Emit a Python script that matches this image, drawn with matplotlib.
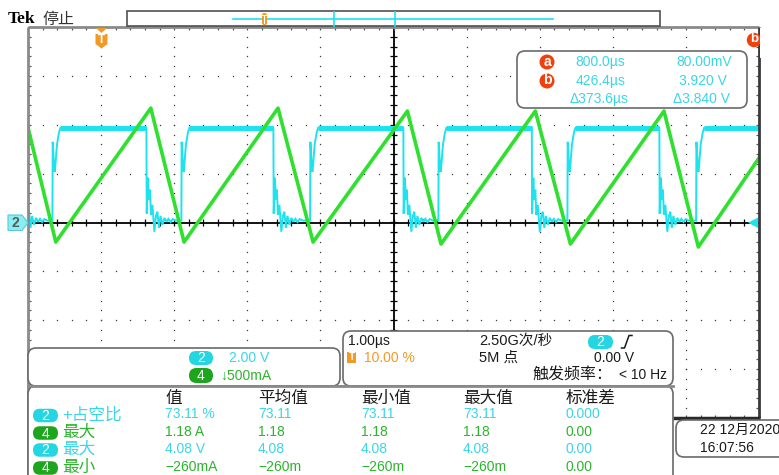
import matplotlib
matplotlib.use('Agg')
import matplotlib.pyplot as plt
from matplotlib.patches import FancyBboxPatch, Polygon, Circle, Rectangle
import numpy as np

W, H = 779, 475

# ---------------- data ----------------
ch2_scale = 2.0          # V/div
ch4_scale = 0.5          # A/div
t_left, t_right = -1.0, 9.0   # µs, 1.00 µs/div, trigger at 10 %

# channel 4 (current, green) triangle vertices
ch4_t = [-1.00, -0.62, 0.68, 1.135, 2.42, 2.90, 4.19, 4.65, 5.94, 6.42, 7.70, 8.17, 9.00]
ch4_i = [0.97, -0.20, 1.17, -0.20, 1.17, -0.20, 1.14, -0.22, 1.14, -0.22, 1.14, -0.25, 0.66]

# channel 2 (voltage, cyan) edges
ch2_fall_t = [-1.137, 0.620, 2.357, 4.135, 5.892, 7.637]
ch2_rise_t = [-0.666, 1.098, 2.859, 4.614, 6.379, 8.140]
ch2_low = 0.08
ch2_high = 3.88
# ringing after a falling edge (µs after edge, V)
ring_dt = [0.0, 0.004, 0.021, 0.034, 0.048, 0.062, 0.082, 0.109, 0.130, 0.150,
           0.171, 0.192, 0.219, 0.246, 0.274, 0.301, 0.33, 0.36, 0.40]
ring_v = [3.87, 0.36, 1.83, 0.93, 1.34, 0.31, 0.72, -0.38, 0.27, 0.44,
          -0.22, 0.27, -0.09, 0.19, 0.03, 0.15, 0.02, 0.14, 0.08]
# overshoot shape of a rising edge (µs after edge, V)
rise_dt = [0.0, 0.004, 0.018, 0.031, 0.041, 0.062, 0.089, 0.109]
rise_v = [0.08, 3.30, 2.56, 2.07, 2.36, 3.18, 3.67, 3.87]

# cursor readouts
cur_time = ['800.0µs', '426.4µs', 'Δ373.6µs']
cur_volt = ['80.00mV', '3.920 V', 'Δ3.840 V']

# measurement table
meas_headers = ['值', '平均值', '最小值', '最大值', '标准差']
meas_src = ['2', '4', '2', '4']
meas_name = ['+占空比', '最大', '最大', '最小']
meas_value = ['73.11 %', '1.18 A', '4.08 V', '−260mA']
meas_mean = ['73.11', '1.18', '4.08', '−260m']
meas_min = ['73.11', '1.18', '4.08', '−260m']
meas_max = ['73.11', '1.18', '4.08', '−260m']
meas_std = ['0.000', '0.00', '0.00', '0.00']

# ---------------- style ----------------
FONT = ['Liberation Sans', 'Noto Sans CJK SC', 'DejaVu Sans']
plt.rcParams['font.family'] = FONT
CYAN = '#1ee3ef'
CYAN_TXT = '#3ad6e6'
GREEN = '#2fe02f'
GREEN_TXT = '#2db42d'
GREEN_PILL = '#1ea51e'
CYAN_PILL = '#24d6e2'
ORANGE = '#f39a24'
RED = '#f0400c'
BLACK = '#1a1a1a'

fig = plt.figure(figsize=(W / 100, H / 100), dpi=100)
fig.patch.set_facecolor('white')

# graticule axes
x0, x1, y0, y1 = 28, 759, 27, 418
gx = fig.add_axes([x0 / W, (H - y1) / H, (x1 - x0) / W, (y1 - y0) / H])
gx.set_xlim(t_left, t_right)
gx.set_ylim(-4, 4)
gx.axis('off')

dot_c = '#3a3a3a'
minor_x = np.arange(t_left, t_right + 1e-6, 0.2)
minor_y = np.arange(-4, 4 + 1e-6, 0.2)
for tv in range(int(t_left) + 1, int(t_right)):
    if tv == 4:
        continue
    gx.plot(np.full_like(minor_y, tv), minor_y, ls='none', marker='s', ms=0.9,
            mew=0, color=dot_c, zorder=1)
for yv in range(-3, 4):
    if yv == 0:
        continue
    gx.plot(minor_x, np.full_like(minor_x, yv), ls='none', marker='s', ms=0.9,
            mew=0, color=dot_c, zorder=1)
# centre cross
gx.axhline(0, color='black', lw=1.3, zorder=2)
gx.axvline(4, color='black', lw=1.3, zorder=2)
gx.vlines(minor_x, -0.08, 0.08, color='black', lw=0.9, zorder=2)
gx.hlines(minor_y, 4 - 0.045, 4 + 0.045, color='black', lw=0.9, zorder=2)
# border ticks
gx.vlines(minor_x, 4 - 0.07, 4, color='#555555', lw=0.9, zorder=2)
gx.vlines(minor_x, -4, -4 + 0.07, color='#555555', lw=0.9, zorder=2)
gx.hlines(minor_y, t_left, t_left + 0.045, color='#555555', lw=0.9, zorder=2)
gx.hlines(minor_y, t_right - 0.045, t_right, color='#555555', lw=0.9, zorder=2)

# build ch2 trace
tt, vv = [], []
rises = sorted(ch2_rise_t)
falls = sorted(ch2_fall_t)
for k, f in enumerate(falls):
    for d, v in zip(ring_dt, ring_v):
        tt.append(f + d); vv.append(v)
    r = next((x for x in rises if x > f), None)
    if r is None:
        break
    tt.append(r); vv.append(ch2_low)
    for d, v in zip(rise_dt, rise_v):
        tt.append(r + d); vv.append(v)
    nf = falls[k + 1] if k + 1 < len(falls) else t_right + 0.5
    tt.append(nf - 0.002); vv.append(ch2_high)
tt = np.array(tt); vv = np.array(vv)
gx.plot(tt, vv / ch2_scale, color=CYAN, lw=1.4, zorder=4, solid_joinstyle='miter')
# fuzzy plateaus
for r in rises:
    nf = next((x for x in falls if x > r), t_right + 0.5)
    gx.plot([r + rise_dt[-1], nf], [ch2_high / ch2_scale] * 2, color=CYAN,
            lw=3.6, zorder=4, solid_capstyle='butt')

# ch4 trace
gx.plot(ch4_t, np.array(ch4_i) / ch4_scale, color=GREEN, lw=2.6, zorder=5)

# ---------------- overlay (screen furniture) ----------------
ov = fig.add_axes([0, 0, 1, 1])
ov.set_xlim(0, W)
ov.set_ylim(H, 0)
ov.axis('off')
ov.set_facecolor('none')


def rbox(x, y, w, h, r=8, ec='#6a6a6a', fc='white', lw=1.2, z=6):
    p = FancyBboxPatch((x, y), w, h, boxstyle=f'round,pad=0,rounding_size={r}',
                       ec=ec, fc=fc, lw=lw, zorder=z)
    ov.add_patch(p)


def pill(cx, cy, txt, fc, w=24, h=14, fs=10):
    rbox(cx - w / 2, cy - h / 2, w, h, r=h / 2, ec='none', fc=fc, lw=0, z=8)
    ov.text(cx, cy + 0.5, txt, color='white', fontsize=fs, ha='center', va='center',
            zorder=9)


def txt(x, y, s, c=BLACK, fs=10, ha='left', **kw):
    ov.text(x, y, s, color=c, fontsize=fs, ha=ha, va='center', zorder=9, **kw)


# borders of graticule
ov.plot([x0, x1], [y0, y0], color='#8a8a8a', lw=2, zorder=5, solid_capstyle='butt')
ov.plot([x0, x0], [y0, H], color='#8a8a8a', lw=2, zorder=5, solid_capstyle='butt')
ov.plot([x1, x1], [y0, y1], color='#3a3a3a', lw=2, zorder=5, solid_capstyle='butt')
ov.plot([673, x1 + 1], [y1, y1], color='#2a2a2a', lw=2.5, zorder=5, solid_capstyle='butt')

# top bar
ov.text(8, 19, 'Tek', family=['Liberation Serif', 'DejaVu Serif'], fontweight='bold',
        fontsize=12.5, color='black', va='center', zorder=9)
txt(43, 19, '停止', c='#333333', fs=11.5)
ov.add_patch(Rectangle((127, 11), 533, 15, ec='#505050', fc='white', lw=1.2, zorder=6))
ov.plot([233, 553], [18.5, 18.5], color=CYAN, lw=1.2, zorder=7)
ov.plot([334, 334], [12, 26], color=CYAN, lw=1.2, zorder=7)
ov.plot([395, 395], [12, 26], color=CYAN, lw=1.2, zorder=7)
rbox(262, 13, 5, 12, r=2, ec='none', fc=ORANGE, lw=0, z=8)
ov.plot([264.5, 264.5], [15, 23], color='white', lw=0.8, zorder=9)
ov.plot([262.5, 266.5], [15, 15], color='white', lw=0.8, zorder=9)

# trigger position marker
ov.add_patch(Polygon([(96, 28), (107, 28), (101.5, 33)], closed=True, fc=ORANGE, ec='none', zorder=8))
ov.add_patch(Polygon([(95.5, 34), (107.5, 34), (107.5, 44), (101.5, 48.5), (95.5, 44)],
                     closed=True, fc=ORANGE, ec='none', zorder=8))
ov.text(101.5, 40, 'T', color='white', fontsize=8.5, fontweight='bold', ha='center',
        va='center', zorder=9)

# cursor b marker at top right (clipped by the border)
ov.add_patch(Circle((754, 40), 7.2, fc=RED, ec='none', zorder=6))
ov.text(754, 39.5, 'b', color='white', fontsize=9.5, fontweight='bold', ha='center',
        va='center', zorder=7)
ov.add_patch(Rectangle((x1 + 1, 28), W - x1, 30, fc='white', ec='none', zorder=7.5))

# channel ground marker and trigger level marker
ov.add_patch(Polygon([(8, 215), (22, 215), (28, 222.7), (22, 230.5), (8, 230.5)],
                     closed=True, fc='#88eef2', ec='#5cc8d2', lw=0.8, zorder=8))
ov.text(15.5, 223, '2', color='#5a5a5a', fontsize=10, fontweight='bold', ha='center',
        va='center', zorder=9)
ov.add_patch(Polygon([(748, 222.7), (758, 217.5), (758, 228)], closed=True, fc=CYAN,
                     ec='none', zorder=8))

# cursor readout box
rbox(517, 51, 230, 57, r=8)
rows_y = [62, 81, 99]
for lab, yy in zip(['a', 'b'], rows_y[:2]):
    ov.add_patch(Circle((547, yy), 7.5, fc=RED, ec='none', zorder=8))
    ov.text(547, yy - 0.5, lab, color='white', fontsize=10, fontweight='bold',
            ha='center', va='center', zorder=9)
txt(575.5, rows_y[0], cur_time[0], CYAN_TXT)
txt(575.5, rows_y[1], cur_time[1], CYAN_TXT)
txt(570, rows_y[2], cur_time[2], CYAN_TXT)
txt(676, rows_y[0], cur_volt[0], CYAN_TXT)
txt(679, rows_y[1], cur_volt[1], CYAN_TXT)
txt(673, rows_y[2], cur_volt[2], CYAN_TXT)

# vertical scale box
rbox(28, 348, 312, 38, r=8)
pill(201, 358, '2', CYAN_PILL, w=24, h=14)
txt(229, 358, '2.00 V', CYAN_TXT)
pill(201, 375.5, '4', GREEN_PILL, w=24, h=15)
txt(220, 376, '↓500mA', GREEN_TXT)

# horizontal / trigger box
rbox(343, 331, 330, 55, r=8)
txt(348, 341.5, '1.00µs')
ov.add_patch(Rectangle((347, 351.5), 9.5, 11.5, fc=ORANGE, ec='none', zorder=8))
ov.text(351.8, 357.3, 'T', color='white', fontsize=7.5, fontweight='bold', ha='center',
        va='center', zorder=9)
txt(364, 357.5, '10.00 %', ORANGE)
txt(479, 341.5, '2.50G次/秒', fs=10.5)
txt(479, 358, '5M 点', fs=10.5)
pill(600.5, 342, '2', CYAN_PILL, w=25, h=14)
ov.plot([621.5, 624.5, 629, 632], [348, 348, 335.5, 335.5], color=BLACK, lw=1.1, zorder=9)
txt(634, 357.5, '0.00 V', ha='right')
txt(533, 375, '触发频率：', fs=11.5)
txt(667, 375, '< 10 Hz', ha='right')

# measurement table box
rbox(28, 386, 645, 100, r=8)
ov.plot([28, 673], [386, 386], color='#8a8a8a', lw=2, zorder=7)
cols = [165, 258, 361, 463, 566]
for cx, h in zip(cols, meas_headers):
    txt(cx, 398, h, fs=12)
rows_y = [414.5, 432, 449, 467]
for i, yy in enumerate(rows_y):
    is2 = meas_src[i] == '2'
    tc = CYAN_TXT if is2 else GREEN_TXT
    pill(45.5, yy + 1, meas_src[i], CYAN_PILL if is2 else GREEN_PILL, w=25, h=13.5)
    txt(62, yy, meas_name[i], tc, fs=12)
    for cx, val in zip(cols, [meas_value[i], meas_mean[i], meas_min[i], meas_max[i], meas_std[i]]):
        txt(cx, yy, val, tc, fs=10)

# date box
rbox(676, 420, 140, 37, r=8)
txt(700, 430, '22 12月2020')
txt(700, 448, '16:07:56')

fig.savefig('out.png', dpi=100, facecolor='white')
